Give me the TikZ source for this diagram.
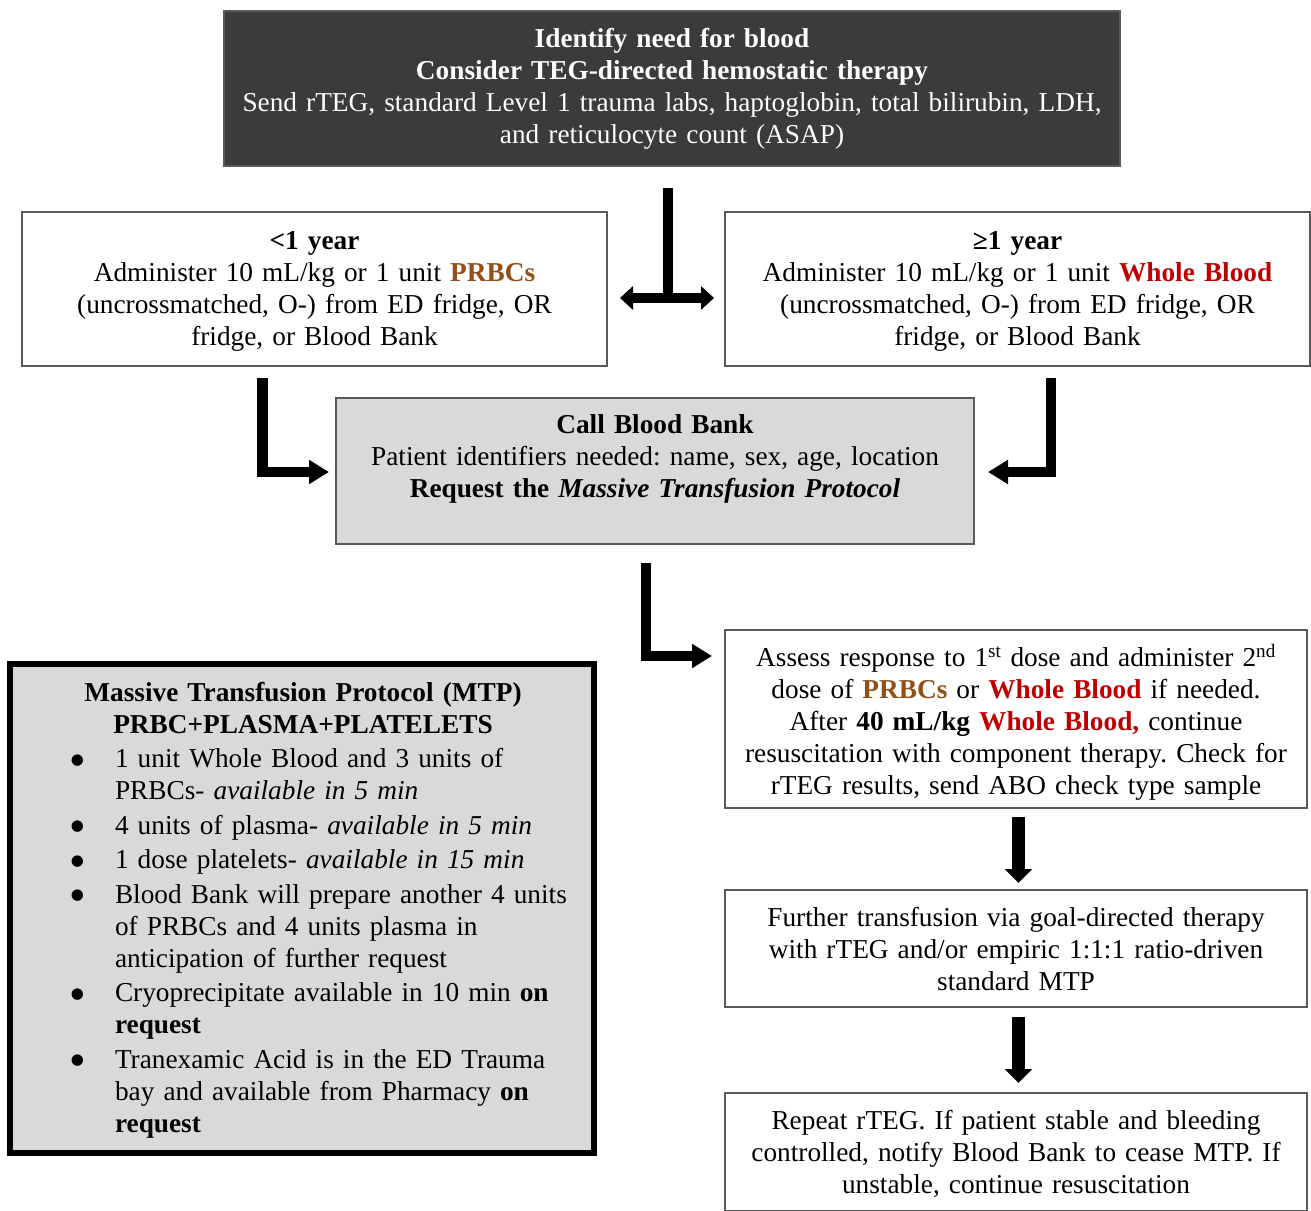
\documentclass[tikz,border=0pt]{standalone}
\usepackage{fontspec}
\setmainfont{Liberation Serif}
\newfontfamily\dejavu{DejaVu Sans}
\usepackage{enumitem}
\usetikzlibrary{arrows.meta}
\definecolor{prbc}{RGB}{145,80,25}
\definecolor{wb}{RGB}{192,0,0}
\definecolor{darkbox}{RGB}{59,59,59}
\definecolor{lightbox}{RGB}{217,217,217}
\definecolor{edgegray}{RGB}{90,90,90}
\newcommand{\PRBC}{\textcolor{prbc}{\textbf{PRBCs}}}
\newcommand{\WB}[1]{\textcolor{wb}{\textbf{#1}}}
\newcommand{\bigdot}{\raisebox{3.5pt}{\dejavu\fontsize{15}{32}\selectfont ●}}
\frenchspacing
\begin{document}
\begin{tikzpicture}[x=1pt,y=-1pt,
  every node/.style={font=\fontsize{27.3}{32}\selectfont\frenchspacing, inner sep=0pt},
  frame/.style={draw=edgegray, line width=1.3pt, rectangle},
  boxtext/.style={align=center, execute at begin node={\rule{0pt}{#1}}},
  boxtext/.default=23pt,
  bar/.style={line width=10.5pt, line join=miter, line cap=butt},
  lhead/.style={-{Triangle[length=20pt,width=23pt]}},
  downbar/.style={line width=13pt, line cap=butt, -{Triangle[length=14pt,width=27pt]}}
]
\useasboundingbox (0,0) rectangle (1311,1210);

% top box
\node[frame, fill=darkbox, text=white, minimum width=896pt, minimum height=155pt,
      text width=880pt, align=center] (top) at (672,88.5)
  {\textbf{Identify need for blood}\\
   \textbf{Consider TEG-directed hemostatic therapy}\\
   Send rTEG, standard Level 1 trauma labs, haptoglobin, total bilirubin, LDH,\\
   and reticulocyte count (ASAP)};

% age boxes
\node[frame, fill=white, minimum width=585pt, minimum height=154pt,
      text width=570pt, boxtext] (young) at (314.5,289)
  {\textbf{<1 year}\\
   Administer 10 mL/kg or 1 unit \PRBC\\
   (uncrossmatched, O-) from ED fridge, OR\\
   fridge, or Blood Bank};

\node[frame, fill=white, minimum width=585pt, minimum height=154pt,
      text width=570pt, boxtext] (old) at (1017.5,289)
  {\textbf{≥1 year}\\
   Administer 10 mL/kg or 1 unit \WB{Whole Blood}\\
   (uncrossmatched, O-) from ED fridge, OR\\
   fridge, or Blood Bank};

% call blood bank
\node[frame, fill=lightbox, minimum width=638pt, minimum height=146pt] (bb) at (655,471) {};
\node[text width=620pt, align=center, anchor=base] (bbtext) at (655,433)
  {\textbf{Call Blood Bank}\\
   Patient identifiers needed: name, sex, age, location\\
   \textbf{Request the \textit{Massive Transfusion Protocol}}};

% right column
\node[frame, fill=white, minimum width=582pt, minimum height=178pt,
      text width=570pt, boxtext=29pt] (assess) at (1016,719)
  {Assess response to 1\textsuperscript{st} dose and administer 2\textsuperscript{nd}\\
   dose of \PRBC{} or \WB{Whole Blood} if needed.\\
   After \textbf{40 mL/kg} \WB{Whole Blood,} continue\\
   resuscitation with component therapy. Check for\\
   rTEG results, send ABO check type sample};

\node[frame, fill=white, minimum width=582pt, minimum height=117pt,
      text width=570pt, boxtext=21pt] (further) at (1016,948.5)
  {Further transfusion via goal-directed therapy\\
   with rTEG and/or empiric 1:1:1 ratio-driven\\
   standard MTP};

\node[frame, fill=white, minimum width=582pt, minimum height=118pt,
      text width=570pt, boxtext] (repeat) at (1016,1152)
  {Repeat rTEG. If patient stable and bleeding\\
   controlled, notify Blood Bank to cease MTP. If\\
   unstable, continue resuscitation};

% MTP box
\node[draw=black, line width=5.5pt, fill=lightbox, minimum width=584pt, minimum height=489pt] (mtp) at (302,908.5) {};
\node[text width=566pt, align=left, anchor=base] (mtptext) at (303,701)
  {{\centering\textbf{Massive Transfusion Protocol (MTP)}\\
    \textbf{PRBC+PLASMA+PLATELETS}\par}
   \begin{itemize}[leftmargin=95pt,labelsep=31pt,itemsep=2.5pt,parsep=0pt,topsep=2.5pt,partopsep=0pt,label=\bigdot]
   \item 1 unit Whole Blood and 3 units of\\ PRBCs- \textit{available in 5 min}
   \item 4 units of plasma- \textit{available in 5 min}
   \item 1 dose platelets- \textit{available in 15 min}
   \item Blood Bank will prepare another 4 units\\ of PRBCs and 4 units plasma in\\ anticipation of further request
   \item Cryoprecipitate available in 10 min \textbf{on}\\ \textbf{request}
   \item Tranexamic Acid is in the ED Trauma\\ bay and available from Pharmacy \textbf{on}\\ \textbf{request}
   \end{itemize}};

% connector coordinates
\coordinate (tTop) at (668,188);
\coordinate (tJoin) at (668,298);
\coordinate (tLeft) at (620,298);
\coordinate (tRight) at (714,298);
\coordinate (lTop) at (262.5,378);
\coordinate (lCorner) at (262.5,472);
\coordinate (lEnd) at (329,472);
\coordinate (rTop) at (1051,378);
\coordinate (rCorner) at (1051,472);
\coordinate (rEnd) at (988,472);
\coordinate (mTop) at (646,563);
\coordinate (mCorner) at (646,656);
\coordinate (mEnd) at (712,656);
\coordinate (d1Top) at (1018.5,817);
\coordinate (d1End) at (1018.5,883);
\coordinate (d2Top) at (1018.5,1017);
\coordinate (d2End) at (1018.5,1083);

% connectors
\draw[bar] (tTop) -- (tJoin);
\draw[bar, {Triangle[length=13pt,width=23pt]}-{Triangle[length=13pt,width=23pt]}] (tLeft) -- (tRight);
\draw[bar, lhead] (lTop) -- (lCorner) -- (lEnd);
\draw[bar, lhead] (rTop) -- (rCorner) -- (rEnd);
\draw[bar, lhead] (mTop) -- (mCorner) -- (mEnd);
\draw[downbar] (d1Top) -- (d1End);
\draw[downbar] (d2Top) -- (d2End);
\end{tikzpicture}
\end{document}
